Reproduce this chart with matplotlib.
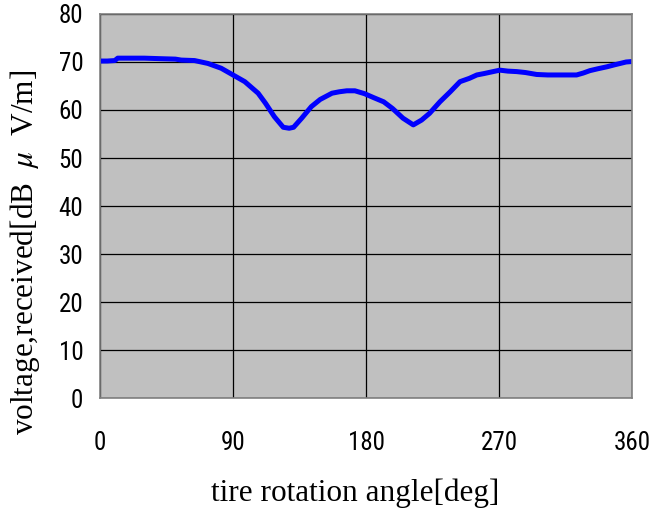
import matplotlib
matplotlib.use("Agg")
import matplotlib.pyplot as plt
from matplotlib import font_manager

angle_deg = [0, 5, 10, 12, 20, 30, 40, 51, 55, 64, 73, 82, 90, 98, 107, 112,
             118, 124, 128, 131, 136.5, 143, 149, 157, 162, 167, 172.5, 179,
             185, 192, 198, 205, 212, 217.6, 223, 230, 237, 243.6, 250, 255,
             260, 266, 270.6, 276, 282, 288, 295.5, 303, 311, 317, 322.5,
             327, 331.5, 337, 343, 348, 352, 356, 360]
voltage_db = [70.2, 70.2, 70.3, 70.8, 70.8, 70.8, 70.7, 70.6, 70.4, 70.3, 69.7,
              68.7, 67.3, 65.9, 63.5, 61.4, 58.6, 56.4, 56.2, 56.4, 58.3, 60.7,
              62.2, 63.5, 63.8, 64.0, 64.0, 63.4, 62.6, 61.7, 60.3, 58.3, 56.9,
              57.9, 59.3, 61.7, 63.8, 65.9, 66.6, 67.3, 67.6, 68.0, 68.3, 68.1,
              68.0, 67.8, 67.4, 67.3, 67.3, 67.3, 67.3, 67.7, 68.2, 68.6, 69.0,
              69.4, 69.7, 70.0, 70.1]
x_ticks = [0, 90, 180, 270, 360]
y_ticks = [0, 10, 20, 30, 40, 50, 60, 70, 80]

plt.rcParams["mathtext.fontset"] = "stix"

# pick a narrow sans font if one is installed
names = {f.name for f in font_manager.fontManager.ttflist}
condensed = [f for f in font_manager.fontManager.ttflist
             if f.name == "DejaVu Sans" and f.stretch in ("condensed", "semi-condensed")]
tick_kw = dict(family=["Roboto", "DejaVu Sans"], fontsize=17)
for nm in ["Liberation Sans Narrow", "Roboto Condensed", "Open Sans Condensed"]:
    if nm in names:
        tick_kw = dict(family=[nm, "DejaVu Sans"], fontsize=18)
        break
else:
    if condensed:
        tick_kw = dict(family=["DejaVu Sans"], fontsize=18, stretch="condensed")

fig = plt.figure(figsize=(6.51, 5.19), dpi=100)
ax = fig.add_axes([100/651, 1-398/519, 532/651, 384/519])
ax.set_facecolor("#C0C0C0")
ax.plot(angle_deg, voltage_db, color="#0000FF", linewidth=3.6, solid_joinstyle="round")
ax.set_xlim(0, 360)
ax.set_ylim(0, 80)
ax.set_xticks(x_ticks)
ax.set_yticks(y_ticks)
ax.grid(True, color="black", linewidth=0.9)
ax.set_axisbelow(True)
for s in ax.spines.values():
    s.set_color("#808080")
    s.set_linewidth(1.2)
ax.tick_params(length=0)
ax.tick_params(axis="x", pad=24)
ax.tick_params(axis="y", pad=12)
for lab in ax.get_xticklabels() + ax.get_yticklabels():
    lab.set_family(tick_kw["family"])
    lab.set_fontsize(tick_kw["fontsize"])
    if "stretch" in tick_kw:
        lab.set_stretch(tick_kw["stretch"])
fig.text(355/651, 1-493/519, "tire rotation angle[deg]", family="Liberation Serif",
         fontsize=22.5, ha="center", va="center")
fig.text(25/651, 1-252/519, "voltage,received[dB $\\ \\mu\\ $ V/m]", family="Liberation Serif",
         fontsize=22.5, ha="center", va="center", rotation=90)
fig.savefig("out.png", dpi=100, facecolor="white")
